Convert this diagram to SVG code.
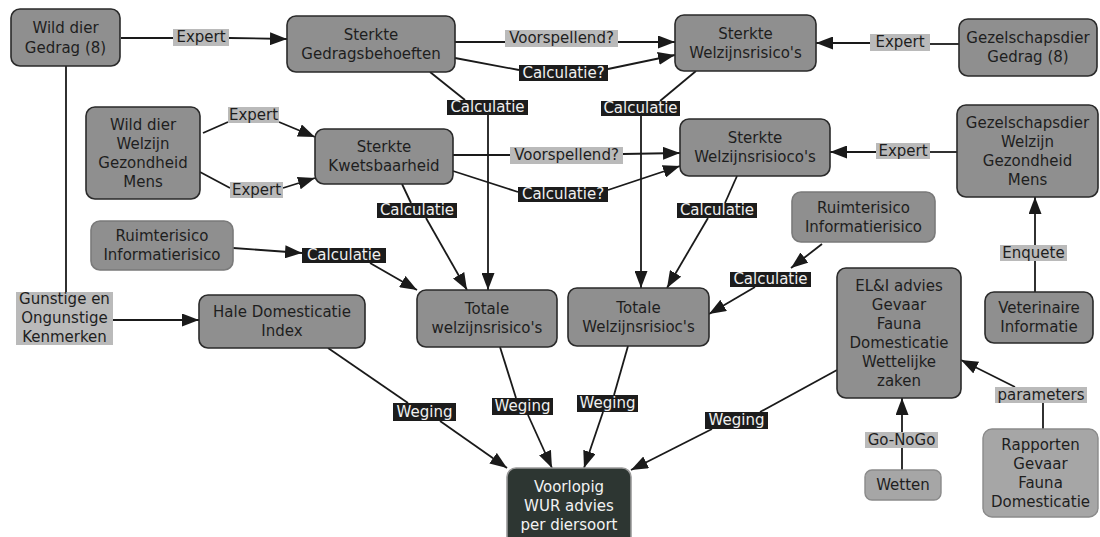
<svg xmlns="http://www.w3.org/2000/svg" width="1100" height="537" viewBox="0 0 1100 537">
<style>
  .n rect{fill:#8f8f8f;stroke:#2a2a2a;stroke-width:1.6}
  .nl rect{fill:#a6a6a6;stroke:#8a8a8a;stroke-width:1.4}
  .nd rect{fill:#2d3632;stroke:#9a9a9a;stroke-width:1.6}
  text{font-family:"DejaVu Sans","Verdana",sans-serif;font-size:15px;text-anchor:middle}
  .n text,.nl text{fill:#1e1e1e}
  .nd text{fill:#f2f2f2}
  .lg rect{fill:#bababa}
  .lg text{fill:#1e1e1e}
  .ld rect{fill:#1c1c1c}
  .ld text{fill:#f0f0f0}
  .c line{stroke:#1a1a1a;stroke-width:1.8;fill:none}
  .c .a{marker-end:url(#ah)}
</style>
<defs>
  <marker id="ah" markerUnits="userSpaceOnUse" markerWidth="17" markerHeight="13" refX="17" refY="6.5" orient="auto">
    <path d="M0,0 L17,6.5 L0,13 z" fill="#1a1a1a"/>
  </marker>
</defs>
<rect width="1100" height="537" fill="#ffffff"/>

<g id="connectors" class="c">
  <line x1="121" y1="38" x2="173" y2="38"/>
  <line class="a" x1="229" y1="38" x2="287" y2="39"/>
  <line x1="455" y1="42" x2="505" y2="42"/>
  <line class="a" x1="618" y1="42" x2="675" y2="42"/>
  <line x1="455" y1="58" x2="519" y2="70"/>
  <line class="a" x1="608" y1="69" x2="675" y2="55"/>
  <line x1="959" y1="44" x2="930" y2="44"/>
  <line class="a" x1="870" y1="43" x2="816" y2="43"/>
  <line x1="430" y1="72" x2="465" y2="100"/>
  <line class="a" x1="488" y1="115" x2="488" y2="290"/>
  <line x1="696" y1="71" x2="660" y2="101"/>
  <line class="a" x1="641" y1="116" x2="641" y2="288"/>
  <line x1="203" y1="133" x2="228" y2="122"/>
  <line class="a" x1="279" y1="122" x2="315" y2="137"/>
  <line x1="200" y1="172" x2="230" y2="188"/>
  <line class="a" x1="283" y1="188" x2="315" y2="178"/>
  <line x1="453" y1="155" x2="510" y2="155"/>
  <line class="a" x1="623" y1="154" x2="680" y2="153"/>
  <line x1="453" y1="171" x2="518" y2="192"/>
  <line class="a" x1="608" y1="190" x2="680" y2="166"/>
  <line x1="957" y1="152" x2="930" y2="152"/>
  <line class="a" x1="876" y1="152" x2="830" y2="152"/>
  <line x1="402" y1="184" x2="411" y2="203"/>
  <line class="a" x1="426" y1="218" x2="467" y2="290"/>
  <line x1="737" y1="176" x2="725" y2="203"/>
  <line class="a" x1="708" y1="218" x2="667" y2="288"/>
  <line class="a" x1="233" y1="248" x2="302" y2="253"/>
  <line class="a" x1="370" y1="263" x2="417" y2="290"/>
  <line class="a" x1="822" y1="244" x2="791" y2="268"/>
  <line class="a" x1="755" y1="287" x2="709" y2="314"/>
  <line x1="1035" y1="292" x2="1035" y2="261"/>
  <line class="a" x1="1035" y1="245" x2="1035" y2="197"/>
  <line x1="66" y1="66" x2="66" y2="292"/>
  <line class="a" x1="113" y1="320" x2="199" y2="320"/>
  <line x1="328" y1="348" x2="408" y2="403"/>
  <line class="a" x1="440" y1="421" x2="507" y2="468"/>
  <line x1="500" y1="347" x2="516" y2="398"/>
  <line class="a" x1="528" y1="415" x2="552" y2="468"/>
  <line x1="628" y1="346" x2="614" y2="395"/>
  <line class="a" x1="603" y1="412" x2="584" y2="468"/>
  <line x1="837" y1="370" x2="760" y2="412"/>
  <line class="a" x1="712" y1="429" x2="631" y2="470"/>
  <line x1="902" y1="470" x2="902" y2="448"/>
  <line class="a" x1="902" y1="432" x2="902" y2="398"/>
  <line x1="1043" y1="429" x2="1043" y2="403"/>
  <line class="a" x1="1015" y1="387" x2="961" y2="360"/>
</g>

<g id="labels">
  <g class="lg"><rect x="173" y="29" width="56" height="17"/><text x="201" y="42">Expert</text></g>
  <g class="lg"><rect x="505" y="30" width="113" height="17"/><text x="561.5" y="43">Voorspellend?</text></g>
  <g class="ld"><rect x="519" y="65" width="89" height="16"/><text x="563.5" y="78">Calculatie?</text></g>
  <g class="lg"><rect x="870" y="34" width="60" height="17"/><text x="900" y="47">Expert</text></g>
  <g class="ld"><rect x="447" y="100" width="81" height="15"/><text x="487.5" y="112">Calculatie</text></g>
  <g class="ld"><rect x="601" y="101" width="79" height="15"/><text x="640.5" y="113">Calculatie</text></g>
  <g class="lg"><rect x="228" y="107" width="51" height="16"/><text x="253.5" y="120">Expert</text></g>
  <g class="lg"><rect x="230" y="182" width="53" height="16"/><text x="256.5" y="195">Expert</text></g>
  <g class="lg"><rect x="510" y="147" width="113" height="17"/><text x="566.5" y="160">Voorspellend?</text></g>
  <g class="ld"><rect x="518" y="187" width="90" height="15"/><text x="563" y="199">Calculatie?</text></g>
  <g class="lg"><rect x="876" y="143" width="54" height="16"/><text x="903" y="156">Expert</text></g>
  <g class="ld"><rect x="377" y="203" width="80" height="15"/><text x="417" y="215">Calculatie</text></g>
  <g class="ld"><rect x="677" y="203" width="80" height="15"/><text x="717" y="215">Calculatie</text></g>
  <g class="ld"><rect x="302" y="248" width="84" height="15"/><text x="344" y="260">Calculatie</text></g>
  <g class="ld"><rect x="730" y="272" width="81" height="15"/><text x="770.5" y="284">Calculatie</text></g>
  <g class="lg"><rect x="1000" y="245" width="67" height="16"/><text x="1033.5" y="258">Enquete</text></g>
  <g class="ld"><rect x="393" y="403" width="63" height="18"/><text x="424.5" y="417">Weging</text></g>
  <g class="ld"><rect x="492" y="398" width="61" height="17"/><text x="522.5" y="411">Weging</text></g>
  <g class="ld"><rect x="577" y="395" width="61" height="17"/><text x="607.5" y="408">Weging</text></g>
  <g class="ld"><rect x="705" y="412" width="63" height="17"/><text x="736.5" y="425">Weging</text></g>
  <g class="lg"><rect x="995" y="387" width="92" height="16"/><text x="1041" y="400">parameters</text></g>
  <g class="lg"><rect x="865" y="432" width="73" height="16"/><text x="901.5" y="445">Go-NoGo</text></g>
  <g class="lg"><rect x="16" y="292" width="97" height="53"/><text x="64.5" y="304">Gunstige en</text><text x="64.5" y="323">Ongunstige</text><text x="64.5" y="342">Kenmerken</text></g>
</g>

<g id="wild-gedrag" class="n"><rect x="11" y="9" width="109" height="57" rx="9"/><text x="65.5" y="33">Wild dier</text><text x="65.5" y="52.5">Gedrag (8)</text></g>
<g id="gedragsbehoeften" class="n"><rect x="287" y="16" width="168" height="56" rx="9"/><text x="371" y="39.5">Sterkte</text><text x="371" y="58.5">Gedragsbehoeften</text></g>
<g id="welzijnsrisicos" class="n"><rect x="675" y="15" width="141" height="56" rx="9"/><text x="745.5" y="38.5">Sterkte</text><text x="745.5" y="57.5">Welzijnsrisico's</text></g>
<g id="gezel-gedrag" class="n"><rect x="959" y="19" width="138" height="57" rx="9"/><text x="1028" y="43">Gezelschapsdier</text><text x="1028" y="62">Gedrag (8)</text></g>
<g id="wild-welzijn" class="n"><rect x="86" y="107" width="114" height="92" rx="9"/><text x="143" y="129.5">Wild dier</text><text x="143" y="148.5">Welzijn</text><text x="143" y="167.5">Gezondheid</text><text x="143" y="186.5">Mens</text></g>
<g id="kwetsbaarheid" class="n"><rect x="315" y="129" width="138" height="55" rx="9"/><text x="384" y="152">Sterkte</text><text x="384" y="171">Kwetsbaarheid</text></g>
<g id="welzijnsrisiocos" class="n"><rect x="680" y="119" width="150" height="57" rx="9"/><text x="755" y="143">Sterkte</text><text x="755" y="162">Welzijnsrisioco's</text></g>
<g id="gezel-welzijn" class="n"><rect x="957" y="105" width="141" height="92" rx="9"/><text x="1027.5" y="127.5">Gezelschapsdier</text><text x="1027.5" y="146.5">Welzijn</text><text x="1027.5" y="165.5">Gezondheid</text><text x="1027.5" y="184.5">Mens</text></g>
<g id="ruimte-links" class="n"><rect x="91" y="221" width="142" height="49" rx="9" style="stroke:#7a7a7a"/><text x="162" y="241">Ruimterisico</text><text x="162" y="260">Informatierisico</text></g>
<g id="hale" class="n"><rect x="199" y="295" width="166" height="53" rx="9"/><text x="282" y="317">Hale Domesticatie</text><text x="282" y="336">Index</text></g>
<g id="totale-1" class="n"><rect x="417" y="290" width="140" height="57" rx="9"/><text x="487" y="314">Totale</text><text x="487" y="333">welzijnsrisico's</text></g>
<g id="totale-2" class="n"><rect x="568" y="288" width="141" height="58" rx="9"/><text x="638.5" y="312.5">Totale</text><text x="638.5" y="331.5">Welzijnsrisioc's</text></g>
<g id="ruimte-rechts" class="n"><rect x="792" y="192" width="143" height="50" rx="9" style="stroke:#7a7a7a"/><text x="863.5" y="212.5">Ruimterisico</text><text x="863.5" y="231.5">Informatierisico</text></g>
<g id="eli" class="n"><rect x="837" y="268" width="124" height="130" rx="9"/><text x="899" y="290.5">EL&amp;I advies</text><text x="899" y="309.5">Gevaar</text><text x="899" y="328.5">Fauna</text><text x="899" y="347.5">Domesticatie</text><text x="899" y="366.5">Wettelijke</text><text x="899" y="385.5">zaken</text></g>
<g id="veterinaire" class="n"><rect x="985" y="292" width="108" height="51" rx="9"/><text x="1039" y="313">Veterinaire</text><text x="1039" y="332">Informatie</text></g>
<g id="voorlopig" class="nd"><rect x="507" y="468" width="124" height="80" rx="9"/><text x="569" y="492">Voorlopig</text><text x="569" y="511">WUR advies</text><text x="569" y="530">per diersoort</text></g>
<g id="wetten" class="nl"><rect x="865" y="470" width="76" height="30" rx="7"/><text x="903" y="490">Wetten</text></g>
<g id="rapporten" class="nl"><rect x="983" y="429" width="115" height="88" rx="9"/><text x="1040.5" y="449.5">Rapporten</text><text x="1040.5" y="468.5">Gevaar</text><text x="1040.5" y="487.5">Fauna</text><text x="1040.5" y="506.5">Domesticatie</text></g>
</svg>
